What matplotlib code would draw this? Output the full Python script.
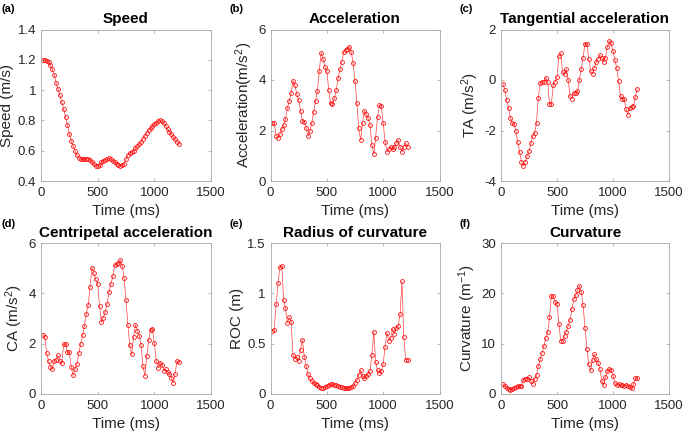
import matplotlib
matplotlib.use("Agg")
import matplotlib.pyplot as plt

plt.rcParams['font.family'] = ['Liberation Sans', 'DejaVu Sans']
plt.rcParams['mathtext.fontset'] = 'custom'
plt.rcParams['mathtext.rm'] = 'Liberation Sans'
plt.rcParams['mathtext.it'] = 'Liberation Sans'

time_ms = [17, 33, 50, 67, 83, 100, 117, 133, 150, 167, 183, 200, 217, 233, 250,
           267, 283, 300, 317, 333, 350, 367, 383, 400, 417, 433, 450, 467, 483, 500,
           517, 533, 550, 567, 583, 600, 617, 633, 650, 667, 683, 700, 717, 733, 750,
           767, 783, 800, 817, 833, 850, 867, 883, 900, 917, 933, 950, 967, 983, 1000,
           1017, 1033, 1050, 1067, 1083, 1100, 1117, 1133, 1150, 1167, 1183, 1200, 1217]

speed = [1.20, 1.20, 1.195, 1.185, 1.165, 1.14, 1.10, 1.05, 1.01, 0.965, 0.92, 0.875,
         0.82, 0.77, 0.71, 0.665, 0.63, 0.60, 0.57, 0.555, 0.545, 0.545, 0.545, 0.545,
         0.545, 0.54, 0.525, 0.51, 0.50, 0.50, 0.505, 0.525, 0.535, 0.54, 0.545, 0.55,
         0.545, 0.535, 0.525, 0.515, 0.505, 0.50, 0.505, 0.515, 0.545, 0.57, 0.585, 0.59,
         0.60, 0.615, 0.63, 0.645, 0.66, 0.68, 0.70, 0.715, 0.735, 0.75, 0.765, 0.775,
         0.785, 0.795, 0.80, 0.795, 0.78, 0.765, 0.745, 0.725, 0.71, 0.69, 0.675, 0.66, 0.645]

acceleration = [2.3, 2.3, 1.8, 1.72, 1.85, 2.04, 2.2, 2.45, 2.9, 3.18, 3.5, 3.97, 3.79,
                3.45, 3.2, 2.78, 2.39, 2.35, 2.08, 1.78, 1.98, 2.31, 2.74, 3.18, 3.58,
                4.36, 5.08, 4.82, 4.52, 4.36, 3.6, 3.07, 3.05, 3.28, 3.6, 4.06, 4.43,
                4.72, 5.12, 5.18, 5.22, 5.32, 5.1, 4.68, 3.97, 3.07, 2.08, 1.62, 2.31,
                2.78, 2.65, 2.48, 2.22, 1.42, 1.07, 1.69, 2.55, 3.01, 2.97, 2.31, 1.55,
                1.16, 1.25, 1.36, 1.25, 1.33, 1.52, 1.62, 1.36, 1.16, 1.36, 1.49, 1.36]

tangential = [-0.15, -0.38, -0.81, -1.1, -1.5, -1.72, -1.74, -2.03, -2.47, -2.87, -3.24,
              -3.4, -3.23, -3.01, -2.83, -2.51, -2.22, -2.1, -1.69, -0.7, -0.12, -0.09,
              -0.08, 0.09, -0.09, -0.94, -0.94, -0.19, -0.07, 0.12, 0.94, 1.05, 0.32,
              0.23, 0.43, -0.01, -0.64, -0.74, -0.52, -0.5, -0.44, 0.01, 0.45, 0.89,
              1.44, 1.41, 0.85, 0.36, 0.25, 0.48, 0.72, 0.85, 0.98, 0.89, 0.72, 0.89,
              1.31, 1.55, 1.45, 1.16, 0.78, 0.49, -0.04, -0.65, -0.74, -0.77, -1.14,
              -1.37, -1.1, -1.05, -1.01, -0.68, -0.35]

centripetal = [2.34, 2.28, 1.63, 1.3, 1.09, 1.0, 1.32, 1.37, 1.53, 1.3, 1.23, 1.99, 1.97,
               1.65, 1.65, 1.08, 0.74, 1.0, 1.18, 1.61, 1.98, 2.33, 2.72, 3.19, 3.55,
               4.24, 5.02, 4.8, 4.55, 4.38, 3.48, 2.86, 3.03, 3.27, 3.59, 4.05, 4.38,
               4.67, 5.11, 5.15, 5.2, 5.32, 5.08, 4.6, 3.73, 2.75, 1.93, 1.57, 2.26,
               2.75, 2.52, 2.32, 1.95, 1.1, 0.73, 1.51, 2.15, 2.55, 2.59, 2.02, 1.3,
               1.04, 1.25, 1.17, 0.92, 0.98, 0.89, 0.8, 0.64, 0.44, 0.81, 1.31, 1.29]

radius = [0.63, 0.64, 0.89, 1.1, 1.26, 1.27, 0.93, 0.85, 0.71, 0.76, 0.72, 0.39, 0.35,
          0.37, 0.33, 0.44, 0.54, 0.37, 0.28, 0.195, 0.155, 0.13, 0.11, 0.095, 0.086,
          0.07, 0.063, 0.063, 0.07, 0.076, 0.09, 0.1, 0.1, 0.093, 0.086, 0.08, 0.073,
          0.066, 0.063, 0.063, 0.06, 0.06, 0.066, 0.083, 0.11, 0.14, 0.19, 0.235, 0.18,
          0.16, 0.18, 0.2, 0.225, 0.39, 0.62, 0.32, 0.235, 0.21, 0.225, 0.3, 0.47,
          0.61, 0.53, 0.56, 0.65, 0.6, 0.66, 0.68, 0.79, 1.12, 0.57, 0.34, 0.34]

curvature = [1.9, 1.65, 1.25, 1.0, 0.86, 0.93, 1.25, 1.4, 1.5, 1.5, 1.65, 2.84, 3.04,
             2.97, 3.3, 2.58, 2.05, 2.97, 3.77, 5.5, 6.9, 8.2, 9.5, 11.2, 12.4, 15.2,
             19.5, 19.4, 18.3, 17.96, 13.9, 10.6, 10.6, 11.6, 12.4, 13.5, 14.8, 16.8,
             18.8, 19.7, 20.6, 21.5, 20.2, 17.6, 13.2, 9.0, 5.9, 4.7, 6.7, 7.9, 7.0,
             6.2, 5.0, 2.64, 1.78, 3.44, 4.56, 5.0, 4.76, 3.64, 2.18, 1.78, 1.9, 1.78,
             1.78, 1.65, 1.78, 1.65, 1.45, 1.12, 1.9, 3.1, 3.1]

panels = [
    ("(a)", "Speed", "Speed (m/s)", speed, (0.4, 1.4),
     [0.4, 0.6, 0.8, 1.0, 1.2, 1.4], ["0.4", "0.6", "0.8", "1", "1.2", "1.4"]),
    ("(b)", "Acceleration", r"Acceleration(m/s$^{2}$)", acceleration, (0, 6),
     [0, 2, 4, 6], ["0", "2", "4", "6"]),
    ("(c)", "Tangential acceleration", r"TA (m/s$^{2}$)", tangential, (-4, 2),
     [-4, -2, 0, 2], ["-4", "-2", "0", "2"]),
    ("(d)", "Centripetal acceleration", r"CA (m/s$^{2}$)", centripetal, (0, 6),
     [0, 2, 4, 6], ["0", "2", "4", "6"]),
    ("(e)", "Radius of curvature", "ROC (m)", radius, (0, 1.5),
     [0, 0.5, 1.0, 1.5], ["0", "0.5", "1", "1.5"]),
    ("(f)", "Curvature", r"Curvature (m$^{-1}$)", curvature, (0, 30),
     [0, 10, 20, 30], ["0", "10", "20", "30"]),
]

x_ticks = [0, 500, 1000, 1500]
x_labels = ["0", "500", "1000", "1500"]

fig = plt.figure(figsize=(6.85, 4.33), dpi=100)

lefts = [41, 270.5, 501]
rights = [211, 439.5, 669]
tops = [29.5, 243]
bottoms = [181, 394]
label_x = [2, 230, 460]
label_y = [4, 219]

W, H = 685.0, 433.0
for i, (plabel, title, ylabel, vals, ylim, yt, ytl) in enumerate(panels):
    r, c = divmod(i, 3)
    ax = fig.add_axes([lefts[c] / W, 1 - bottoms[r] / H,
                       (rights[c] - lefts[c]) / W, (bottoms[r] - tops[r]) / H])
    ax.plot(time_ms, vals, color='#ff4040', lw=0.5, marker='o', markersize=2.8,
            markerfacecolor='none', markeredgecolor='#ff1010', markeredgewidth=0.6)
    ax.set_xlim(0, 1500)
    ax.set_ylim(*ylim)
    ax.set_xticks(x_ticks)
    ax.set_xticklabels(x_labels)
    ax.set_yticks(yt)
    ax.set_yticklabels(ytl)
    ax.tick_params(direction='in', length=2.5, width=0.5, color='#a0a0a0',
                   labelsize=9.5, labelcolor='#262626', top=True, right=True)
    ax.tick_params(axis='x', pad=4.5)
    ax.tick_params(axis='y', pad=3.5)
    for sp in ax.spines.values():
        sp.set_color('#a8a8a8')
        sp.set_linewidth(0.6)
    ax.set_xlabel("Time (ms)", fontsize=11, color='#262626', labelpad=3.5)
    ax.set_ylabel(ylabel, fontsize=11, color='#262626', labelpad=2.5)
    ax.set_title(title, fontsize=11, fontweight='bold', pad=4.5)
    fig.text(label_x[c] / W, 1 - label_y[r] / H, plabel, fontsize=8,
             fontweight='bold', ha='left', va='top')

fig.savefig("out.png", dpi=100)
